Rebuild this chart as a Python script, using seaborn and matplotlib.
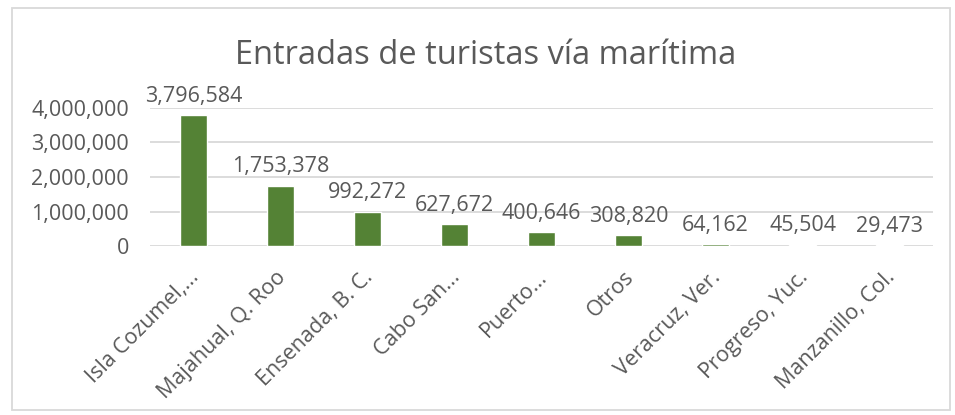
"""
Entradas de turistas vía marítima - bar chart recreated with seaborn.
"""
import matplotlib
matplotlib.use("Agg")
import matplotlib.pyplot as plt
import matplotlib.ticker as mticker
import matplotlib.transforms as mtrans
from matplotlib.patches import Rectangle
import pandas as pd
import seaborn as sns

# data
puertos = [
    "Isla Cozumel,...", "Majahual, Q. Roo", "Ensenada, B. C.", "Cabo San...",
    "Puerto...", "Otros", "Veracruz, Ver.", "Progreso, Yuc.", "Manzanillo, Col.",
]
turistas = [3796584, 1753378, 992272, 627672, 400646, 308820, 64162, 45504, 29473]
y_ticks = [0, 1000000, 2000000, 3000000, 4000000]
titulo = "Entradas de turistas vía marítima"

TEXT = "#595959"
GRID = "#D9D9D9"
BAR = "#548235"
FS = 15.5

sns.set_style("white")
plt.rcParams["font.family"] = ["Open Sans", "DejaVu Sans"]

df = pd.DataFrame({"puerto": puertos, "turistas": turistas})

fig = plt.figure(figsize=(9.55, 4.15), dpi=100)
ax = fig.add_axes([0.157, 0.407, 0.82, 0.333])

sns.barplot(data=df, x="puerto", y="turistas", color=BAR, saturation=1,
            width=0.32, ax=ax)

# data labels
ax.bar_label(ax.containers[0], labels=[f"{v:,}" for v in turistas],
             padding=6, fontsize=FS, color=TEXT)

ax.set_ylim(0, 4000000)
ax.set_yticks(y_ticks)
ax.yaxis.set_major_formatter(mticker.FuncFormatter(lambda v, p: f"{int(v):,}"))
ax.grid(axis="y", color=GRID, linewidth=1.3)
ax.set_axisbelow(True)
for s in ax.spines.values():
    s.set_visible(False)
ax.set_xlabel("")
ax.set_ylabel("")
ax.tick_params(axis="y", length=0, pad=15, labelsize=FS, labelcolor=TEXT)
ax.tick_params(axis="x", length=0, pad=15, labelsize=FS, labelcolor=TEXT)
shift = mtrans.ScaledTranslation(-5 / 100, 0, fig.dpi_scale_trans)
for lbl in ax.get_xticklabels():
    lbl.set_rotation(45)
    lbl.set_ha("right")
    lbl.set_va("top")
    lbl.set_rotation_mode("anchor")
    lbl.set_transform(lbl.get_transform() + shift)

fig.text(0.508, 0.867, titulo, ha="center", va="center", fontsize=23.5, color=TEXT)

# chart frame
fig.patches.append(Rectangle((12 / 955, 5 / 415), 938 / 955, 402 / 415,
                             transform=fig.transFigure, fill=False,
                             edgecolor=GRID, linewidth=1.3))

fig.savefig("out.png", dpi=100)
plt.close(fig)
